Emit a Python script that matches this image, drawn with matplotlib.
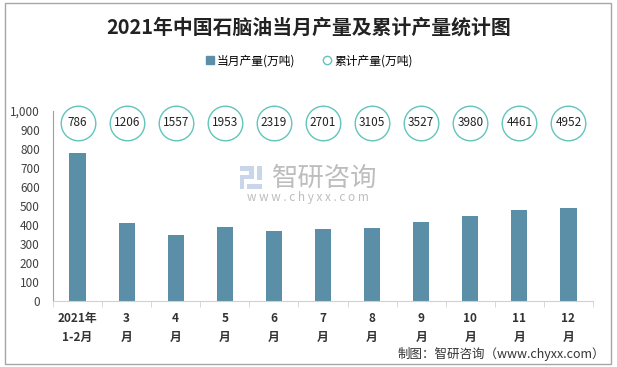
# 2021年中国石脑油当月产量及累计产量统计图

import matplotlib.pyplot as plt
from matplotlib.patches import Rectangle
from matplotlib.lines import Line2D

plt.rcParams['font.family'] = ['Noto Sans CJK SC', 'DejaVu Sans']

categories = ['2021年\n1-2月', '3\n月', '4\n月', '5\n月', '6\n月', '7\n月',
              '8\n月', '9\n月', '10\n月', '11\n月', '12\n月']
monthly = [779, 411, 347, 389, 368, 379, 384, 416, 447, 479, 489]
cumulative = [786, 1206, 1557, 1953, 2319, 2701, 3105, 3527, 3980, 4461, 4952]
yticks = [0, 100, 200, 300, 400, 500, 600, 700, 800, 900, 1000]

bar_color = '#5B8FA8'
circle_color = '#62C4BC'

fig = plt.figure(figsize=(6.17, 3.67), dpi=100)
ax = fig.add_axes([53 / 617, 1 - 301 / 367, 540 / 617, 190 / 367])

x = list(range(len(categories)))
ax.bar(x, monthly, width=0.33, color=bar_color, zorder=2)

# cumulative values in circles near the top
ax.scatter(x, [937] * len(x), s=620, facecolor='white', edgecolor=circle_color,
           linewidth=1, zorder=3, clip_on=False)
for xi, v in zip(x, cumulative):
    ax.text(xi, 937, str(v), ha='center', va='center', fontsize=8.5,
            color='#222222', zorder=4)

ax.set_xlim(-0.5, len(x) - 0.5)
ax.set_ylim(0, 1000)
ax.set_yticks(yticks)
ax.set_yticklabels([f'{t:,}' for t in yticks], fontsize=8.5, color='#404040')
ax.tick_params(axis='y', length=0, pad=9.5)

ax.set_xticks(x)
ax.set_xticklabels(categories, fontsize=8.5, fontweight='bold', color='#333333',
                   linespacing=1.6)
ax.tick_params(axis='x', which='major', length=0, pad=8)
ax.set_xticks([i - 0.5 for i in range(len(x) + 1)], minor=True)
ax.tick_params(axis='x', which='minor', length=4, color='#D0D0D0')

for s in ['top', 'right']:
    ax.spines[s].set_visible(False)
ax.spines['left'].set_color('#A0A0A0')
ax.spines['bottom'].set_color('#D0D0D0')

# title and legend
fig.text(0.5, 1 - 27 / 367, '2021年中国石脑油当月产量及累计产量统计图',
         ha='center', va='center', fontsize=14.3, fontweight='bold', color='#222222')
handles = [
    Line2D([], [], marker='s', linestyle='none', markersize=6, color=bar_color),
    Line2D([], [], marker='o', linestyle='none', markersize=6,
           markerfacecolor='white', markeredgecolor=circle_color),
]
fig.legend(handles, ['当月产量(万吨)', '累计产量(万吨)'], loc='center',
           bbox_to_anchor=(0.5, 1 - 61 / 367), ncol=2, frameon=False,
           fontsize=8.5, handletextpad=0.1, columnspacing=2.2, handlelength=1)

# watermark
fig.text(325 / 617, 1 - 178 / 367, '智研咨询', ha='center', va='center',
         fontsize=19, color='#BDBDBD')
fig.text(308 / 617, 1 - 198 / 367, 'w w w . c h y x x . c o m', ha='center',
         va='center', fontsize=8.5, color='#BDBDBD')
for rx, ry, rw, rh in [(240, 166, 14, 5), (249, 166, 5, 12), (240, 175, 14, 4),
                       (240, 175, 4, 14), (247, 184, 15, 5), (257, 166, 5, 14)]:
    fig.patches.append(Rectangle((rx / 617, 1 - (ry + rh) / 367), rw / 617, rh / 367,
                                 transform=fig.transFigure, color='#C9D6EA',
                                 linewidth=0))

# source
fig.text(605 / 617, 1 - 354 / 367, '制图：智研咨询（www.chyxx.com）', ha='right',
         va='center', fontsize=9, color='#333333')

# outer border
fig.patches.append(Rectangle((5 / 617, 3 / 367), 606 / 617, 361 / 367,
                             transform=fig.transFigure, fill=False,
                             edgecolor='#A6A6A6', linewidth=1))

fig.savefig('out.png', dpi=100)
